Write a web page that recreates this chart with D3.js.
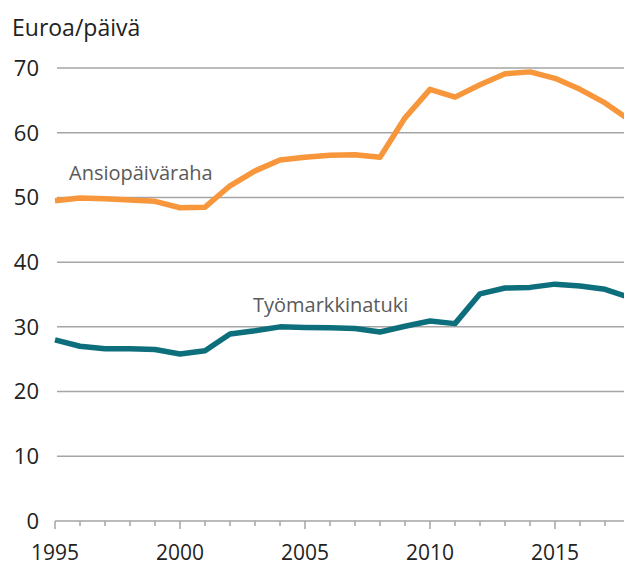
<!DOCTYPE html>
<html>
<head>
<meta charset="utf-8">
<script src="https://cdn.jsdelivr.net/npm/d3@7"></script>
<style>
  body { margin: 0; background: #fff; }
  svg { display: block; font-family: "Open Sans", sans-serif; }
</style>
</head>
<body>
<div id="chart"></div>
<script>
// values (euros per day)
var years = [1995, 1996, 1997, 1998, 1999, 2000, 2001, 2002, 2003, 2004, 2005, 2006,
             2007, 2008, 2009, 2010, 2011, 2012, 2013, 2014, 2015, 2016, 2017, 2018];
var ansiopaivaraha = [49.5, 49.9, 49.8, 49.6, 49.4, 48.4, 48.5, 51.8, 54.1, 55.8, 56.2, 56.5,
                      56.6, 56.2, 62.3, 66.7, 65.5, 67.4, 69.1, 69.4, 68.4, 66.7, 64.6, 61.9];
var tyomarkkinatuki = [28.0, 27.0, 26.6, 26.6, 26.5, 25.8, 26.3, 28.9, 29.4, 30.0, 29.9, 29.85,
                       29.75, 29.2, 30.1, 30.9, 30.5, 35.1, 36.0, 36.1, 36.6, 36.3, 35.8, 34.5];
var yTicks = [0, 10, 20, 30, 40, 50, 60, 70];
var xLabels = [1995, 2000, 2005, 2010, 2015];

var config = {
    width: 624,
    height: 567,
    orange: "#f7963a",
    teal: "#0e6f7c"
};

var svg = d3.select("#chart").append("svg")
    .attr("width", config.width)
    .attr("height", config.height);

var x = d3.scaleLinear().domain([1995, 2018]).range([55, 630]);
var y = d3.scaleLinear().domain([0, 70]).range([521, 68]);

// grid lines
svg.append("g")
    .selectAll("line")
    .data(yTicks.filter(d => d > 0))
    .join("line")
    .attr("x1", 57).attr("x2", config.width)
    .attr("y1", d => y(d)).attr("y2", d => y(d))
    .attr("stroke", "#a5a5a5")
    .attr("stroke-width", 1.5);

// y labels
svg.append("g")
    .selectAll("text")
    .data(yTicks)
    .join("text")
    .attr("x", 39)
    .attr("y", d => y(d))
    .attr("dy", "0.36em")
    .attr("text-anchor", "end")
    .attr("font-size", 22)
    .attr("fill", "#222")
    .text(d => d);

svg.append("text")
    .attr("x", 12).attr("y", 36)
    .attr("font-size", 23)
    .attr("fill", "#222")
    .text("Euroa/päivä");

// x axis
var xAxis = svg.append("g");
xAxis.append("line")
    .attr("x1", x(1995)).attr("x2", config.width)
    .attr("y1", y(0)).attr("y2", y(0))
    .attr("stroke", "#a5a5a5").attr("stroke-width", 1.5);
xAxis.selectAll(".tick")
    .data(years)
    .join("line")
    .attr("x1", d => x(d)).attr("x2", d => x(d))
    .attr("y1", y(0))
    .attr("y2", d => y(0) + (d % 5 === 0 ? 8 : 5))
    .attr("stroke", "#a5a5a5").attr("stroke-width", 1.5);
xAxis.selectAll("text")
    .data(xLabels)
    .join("text")
    .attr("x", d => x(d))
    .attr("y", 560)
    .attr("text-anchor", "middle")
    .attr("font-size", 21)
    .attr("fill", "#222")
    .text(d => d);

// lines
svg.append("clipPath").attr("id", "clip")
    .append("rect").attr("x", 0).attr("y", 0).attr("width", config.width).attr("height", config.height);

var line = d3.line()
    .x((d, i) => x(years[i]))
    .y(d => y(d));

var plot = svg.append("g").attr("clip-path", "url(#clip)");
plot.append("path")
    .attr("d", line(ansiopaivaraha))
    .attr("fill", "none")
    .attr("stroke", config.orange)
    .attr("stroke-width", 5.5)
    .attr("stroke-linejoin", "round");
plot.append("path")
    .attr("d", line(tyomarkkinatuki))
    .attr("fill", "none")
    .attr("stroke", config.teal)
    .attr("stroke-width", 5.5)
    .attr("stroke-linejoin", "round");

// series labels
svg.append("text")
    .attr("x", 69).attr("y", 180)
    .attr("font-size", 20)
    .attr("fill", "#5a5a5a")
    .text("Ansiopäiväraha");
svg.append("text")
    .attr("x", 253).attr("y", 312)
    .attr("font-size", 20)
    .attr("fill", "#5a5a5a")
    .text("Työmarkkinatuki");
</script>
</body>
</html>
